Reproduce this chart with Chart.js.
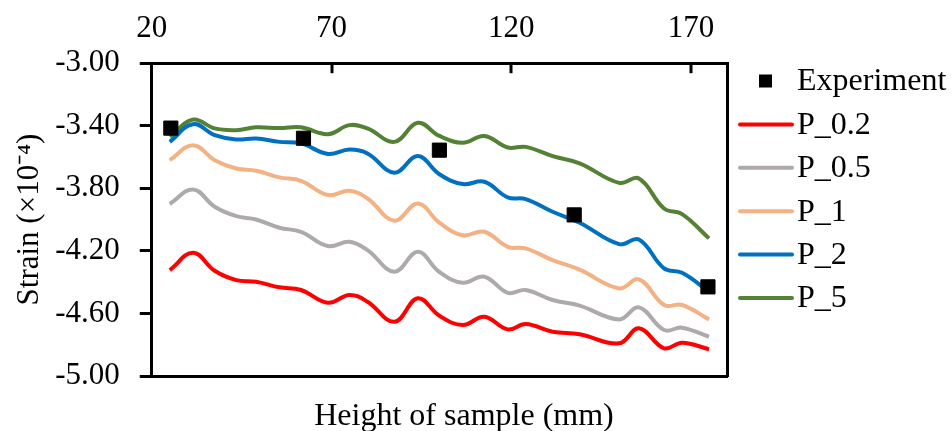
<!DOCTYPE html>
<html>
<head>
<meta charset="utf-8">
<script src="https://cdn.jsdelivr.net/npm/chart.js@4.4.1/dist/chart.umd.min.js"></script>
<style>
  html, body { margin: 0; padding: 0; background: #fff; }
  #wrap { width: 952px; height: 431px; }
</style>
</head>
<body>
<div id="wrap"><canvas id="chart" width="952" height="431"></canvas></div>
<script>
// heights along the sample (mm)
const heights = [25, 31.5, 37.5, 43.5, 49, 55.5, 61.5, 69, 75, 80, 87.5, 94, 100, 106.5, 112.5, 119, 124, 131.5, 139, 150, 155.5, 162.5, 167.5, 175];

const p02 = [-4.323, -4.212, -4.327, -4.387, -4.397, -4.433, -4.45, -4.532, -4.482, -4.525, -4.653, -4.503, -4.615, -4.674, -4.621, -4.702, -4.668, -4.717, -4.733, -4.791, -4.695, -4.823, -4.787, -4.829];
const p05 = [-3.90, -3.807, -3.918, -3.978, -3.999, -4.052, -4.078, -4.169, -4.142, -4.195, -4.333, -4.206, -4.335, -4.404, -4.365, -4.468, -4.45, -4.514, -4.55, -4.638, -4.561, -4.706, -4.691, -4.749];
const p1 = [-3.62, -3.524, -3.62, -3.673, -3.688, -3.73, -3.752, -3.843, -3.816, -3.865, -4.007, -3.897, -4.02, -4.10, -4.078, -4.174, -4.184, -4.259, -4.32, -4.44, -4.382, -4.546, -4.546, -4.638];
const p2 = [-3.503, -3.39, -3.46, -3.488, -3.481, -3.503, -3.513, -3.58, -3.552, -3.577, -3.70, -3.594, -3.71, -3.773, -3.758, -3.858, -3.869, -3.95, -4.02, -4.157, -4.127, -4.312, -4.34, -4.461];
const p5 = [-3.47, -3.36, -3.417, -3.428, -3.41, -3.415, -3.41, -3.454, -3.396, -3.417, -3.503, -3.381, -3.465, -3.509, -3.466, -3.539, -3.535, -3.594, -3.64, -3.765, -3.737, -3.929, -3.965, -4.12];

const expX = [25.3, 62.2, 100, 137.5, 174.7];
const expY = [-3.415, -3.48, -3.556, -3.97, -4.43];

const xTicks = [20, 70, 120, 170];
const yTicks = [-5.0, -4.6, -4.2, -3.8, -3.4, -3.0];

const xTitle = 'Height of sample (mm)';
const yTitle = 'Strain (×10⁻⁴)';

const serif = '"Liberation Serif", "Times New Roman", serif';
const font = { family: serif, size: 31 };

function pts(xs, ys) {
  return xs.map((x, i) => ({ x: x, y: ys[i] }));
}

function curve(label, ys, color) {
  return {
    label: label,
    data: pts(heights, ys),
    showLine: true,
    borderColor: color,
    backgroundColor: color,
    borderWidth: 4,
    pointRadius: 0,
    tension: 0.4
  };
}

// small tick marks on the top axis pointing into the plot
const innerTicks = {
  id: 'innerTicks',
  afterDraw(chart) {
    const ctx = chart.ctx, sx = chart.scales.x, top = chart.chartArea.top;
    ctx.save();
    ctx.strokeStyle = '#000';
    ctx.lineWidth = 3;
    xTicks.forEach(v => {
      const px = Math.round(sx.getPixelForValue(v));
      if (px <= chart.chartArea.left + 2) return;
      ctx.beginPath();
      ctx.moveTo(px, top);
      ctx.lineTo(px, top + 10);
      ctx.stroke();
    });
    ctx.restore();
  }
};

// legend on the right + x axis title under the plot
const sideLegend = {
  id: 'sideLegend',
  afterDraw(chart) {
    const ctx = chart.ctx;
    ctx.save();
    ctx.font = '32px ' + serif;
    ctx.textBaseline = 'middle';
    chart.data.datasets.forEach((ds, i) => {
      const y = 81 + i * 43.4;
      if (ds.showLine === false) {
        ctx.fillStyle = '#000';
        ctx.fillRect(759, y - 6.5, 13, 13);
      } else {
        ctx.strokeStyle = ds.borderColor;
        ctx.lineWidth = 4;
        ctx.lineCap = 'round';
        ctx.beginPath();
        ctx.moveTo(740, y);
        ctx.lineTo(792, y);
        ctx.stroke();
      }
      ctx.fillStyle = '#000';
      ctx.fillText(ds.label, 797, y + 1);
    });
    ctx.textAlign = 'center';
    ctx.textBaseline = 'alphabetic';
    ctx.fillText(xTitle, 464, 425);
    ctx.restore();
  }
};

new Chart(document.getElementById('chart'), {
  type: 'scatter',
  data: {
    datasets: [
      {
        label: 'Experiment',
        data: pts(expX, expY),
        showLine: false,
        pointStyle: 'rect',
        pointRadius: 10,
        pointBackgroundColor: '#000',
        pointBorderColor: '#000',
        borderColor: '#000',
        backgroundColor: '#000'
      },
      curve('P_0.2', p02, '#FF0000'),
      curve('P_0.5', p05, '#AEAAAA'),
      curve('P_1', p1, '#F4B183'),
      curve('P_2', p2, '#0070C0'),
      curve('P_5', p5, '#548235')
    ]
  },
  options: {
    responsive: false,
    animation: false,
    devicePixelRatio: 1,
    layout: { padding: { top: -6, right: 225, bottom: 55, left: 11 } },
    plugins: {
      legend: { display: false },
      tooltip: { enabled: false }
    },
    scales: {
      x: {
        type: 'linear',
        position: 'top',
        min: 20,
        max: 180,
        afterBuildTicks: s => { s.ticks = xTicks.map(v => ({ value: v })); },
        ticks: { font: font, color: '#000', padding: 16, maxRotation: 0, autoSkip: false },
        grid: { drawOnChartArea: false, drawTicks: false },
        border: { color: '#000', width: 3 }
      },
      x2: {
        type: 'linear',
        position: 'bottom',
        min: 20,
        max: 180,
        ticks: { display: false },
        grid: { drawOnChartArea: false, drawTicks: false },
        border: { color: '#000', width: 3 }
      },
      y: {
        type: 'linear',
        position: 'left',
        min: -5,
        max: -3,
        afterBuildTicks: s => { s.ticks = yTicks.map(v => ({ value: v })); },
        ticks: { font: font, color: '#000', padding: 20, callback: v => v.toFixed(2) },
        grid: { drawOnChartArea: false, drawTicks: true, tickLength: 12, color: '#000', lineWidth: 3 },
        border: { color: '#000', width: 3 },
        title: { display: true, text: yTitle, font: font, color: '#000', padding: { top: 0, bottom: -13 } }
      },
      y2: {
        type: 'linear',
        position: 'right',
        min: -5,
        max: -3,
        ticks: { display: false },
        grid: { drawOnChartArea: false, drawTicks: false },
        border: { color: '#000', width: 3 }
      }
    }
  },
  plugins: [innerTicks, sideLegend]
});
</script>
</body>
</html>
